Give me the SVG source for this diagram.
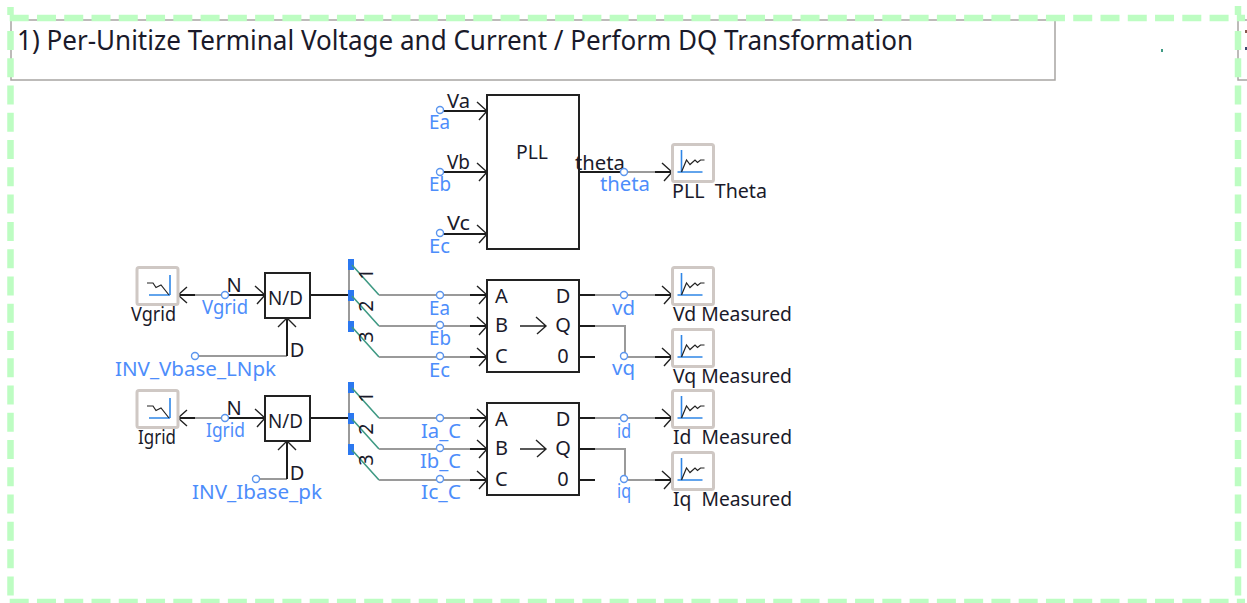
<svg xmlns="http://www.w3.org/2000/svg" xmlns:xlink="http://www.w3.org/1999/xlink" width="1247" height="603" viewBox="0 0 1247 603">
<style>
text{font-family:"Noto Sans","DejaVu Sans",sans-serif;font-size:20px;fill:#1a1a2a}
.b{fill:#4d8dfb}
.m{text-anchor:middle}
.title{font-size:28px}
.box{fill:#fff;stroke:#222;stroke-width:2}
.wk{fill:none;stroke:#1c1c1c;stroke-width:2}
.wg{fill:none;stroke:#9a9a9a;stroke-width:2}
.gr{fill:none;stroke:#3f9a84;stroke-width:1.6}
.ar{fill:none;stroke:#222;stroke-width:1.4}
.nd{fill:#fff;stroke:#5b95ee;stroke-width:1.4}
.frame{fill:none;stroke:#a8a5a2;stroke-width:1.5}
.sc{fill:#fff;stroke:#cfc8c4;stroke-width:3}
.bl{fill:none;stroke:#2f86e6;stroke-width:1.6}
.cv{fill:none;stroke:#222;stroke-width:1.2}
.bb{fill:#2b78f0}
.sel{fill:none;stroke:#bdfdc2;stroke-width:6.500;stroke-dasharray:19 8.270}
</style>
<defs>
<path id="ah" class="ar" d="M-10 -9L0 0L-8 9"/>
<path id="ahl" class="ar" d="M9 -8L0 0L9 8"/>
<path id="ahu" class="ar" d="M-9 9L0 0L9 9"/>
<g id="sco"><rect class="sc" x="0" y="0" width="41" height="37" rx="2"/><path class="bl" d="M9 5.500V27.500M5 27.500H30"/><path class="cv" d="M9 27.500L14 15.500L17.500 20L22.500 15.500L25 18L28 15.500H32"/></g>
<g id="sci"><rect class="sc" x="0" y="0" width="41" height="37" rx="2"/><path class="bl" d="M33 7.500V27.500M12 27.500H33"/><path class="cv" d="M10 15.500H16L19 20L24 17.500L32 27.500"/></g>
<g id="sw"><path class="wg" d="M349 0V73"/><rect class="bb" x="348" y="0" width="6" height="11"/><rect class="bb" x="348" y="31" width="6" height="11"/><rect class="bb" x="348" y="62" width="6" height="11"/><path class="gr" d="M352 6L379 36M352 37L379 67M352 68L379 98"/><path class="wg" d="M379 36H470M379 67H470M379 98H470"/><path class="wk" d="M470 36H487M470 67H487M470 98H487"/></g>
<circle id="n" class="nd" r="3.500"/>
</defs>
<g id="frame-title">
<path class="frame" d="M1056 20H11V80H1055V20"/>
<path class="frame" d="M1247 20H1238V80H1247"/>
<rect x="1161" y="49" width="2" height="3" fill="#3f9a84"/>
<rect x="1245" y="30" width="2" height="3" fill="#8a5a50"/>
<rect x="1245" y="47" width="2" height="3" fill="#3a4a70"/>
<text id="title" class="title" x="17" y="50" textLength="896" lengthAdjust="spacingAndGlyphs">1) Per-Unitize Terminal Voltage and Current / Perform DQ Transformation</text>
</g>
<g id="connectors">
<path class="wk" d="M440 111H487M440 172H487M440 234H487"/>
<path class="wk" d="M579 172H622M655 172H672"/><path class="wg" d="M622 172H655"/>
<use xlink:href="#ah" x="487" y="111"/><use xlink:href="#ah" x="487" y="172"/><use xlink:href="#ah" x="487" y="234"/><use xlink:href="#ah" x="672" y="172"/>

<path class="wk" d="M178 295H195M225 295H265M310 295H349"/><path class="wg" d="M195 295H225"/>
<path class="wg" d="M195 356H287"/><path class="wk" d="M287 356V318"/>
<use xlink:href="#ahl" x="178" y="295"/><use xlink:href="#ah" x="265" y="295"/><use xlink:href="#ahu" x="287" y="318"/>
<use xlink:href="#sw" y="259"/>
<use xlink:href="#ah" x="487" y="295"/><use xlink:href="#ah" x="487" y="326"/><use xlink:href="#ah" x="487" y="357"/>
<path class="wk" d="M579 295H595M655 295H672M579 326H595M655 357H672M579 357H595"/>
<path class="wg" d="M595 295H655M595 326H625V357H655"/>
<use xlink:href="#ah" x="672" y="295"/><use xlink:href="#ah" x="672" y="357"/>

<path class="wk" d="M178 418H195M225 418H265M310 418H349"/><path class="wg" d="M195 418H225"/>
<path class="wg" d="M256 479H287"/><path class="wk" d="M287 479V441"/>
<use xlink:href="#ahl" x="178" y="418"/><use xlink:href="#ah" x="265" y="418"/><use xlink:href="#ahu" x="287" y="441"/>
<use xlink:href="#sw" y="382"/>
<use xlink:href="#ah" x="487" y="418"/><use xlink:href="#ah" x="487" y="449"/><use xlink:href="#ah" x="487" y="480"/>
<path class="wk" d="M579 418H595M655 418H672M579 449H595M655 480H672M579 480H595"/>
<path class="wg" d="M595 418H655M595 449H625V480H655"/>
<use xlink:href="#ah" x="672" y="418"/><use xlink:href="#ah" x="672" y="480"/>
</g>
<g id="pll">
<rect class="box" x="487" y="95" width="92" height="154"/>
<text x="516" y="159" textLength="32" lengthAdjust="spacingAndGlyphs">PLL</text>
<text x="447" y="108" textLength="23" lengthAdjust="spacingAndGlyphs">Va</text><text x="447" y="169" textLength="23" lengthAdjust="spacingAndGlyphs">Vb</text><text x="447" y="230" textLength="23" lengthAdjust="spacingAndGlyphs">Vc</text>
<text x="575" y="170" textLength="50" lengthAdjust="spacingAndGlyphs">theta</text>
<use xlink:href="#n" x="440" y="110"/><use xlink:href="#n" x="440" y="172"/><use xlink:href="#n" x="440" y="233"/><use xlink:href="#n" x="624" y="172"/>
<text class="b" x="429" y="129" textLength="21" lengthAdjust="spacingAndGlyphs">Ea</text><text class="b" x="429" y="191" textLength="22" lengthAdjust="spacingAndGlyphs">Eb</text><text class="b" x="429" y="253" textLength="21" lengthAdjust="spacingAndGlyphs">Ec</text>
<text class="b" x="600" y="191" textLength="50" lengthAdjust="spacingAndGlyphs">theta</text>
</g>
<g id="scope-theta"><use xlink:href="#sco" x="672.500" y="144.500"/><text x="672" y="198" textLength="95" lengthAdjust="spacingAndGlyphs" xml:space="preserve">PLL  Theta</text></g>
<g id="scope-vgrid"><use xlink:href="#sci" x="137" y="267.500"/><text x="131" y="321" textLength="45" lengthAdjust="spacingAndGlyphs">Vgrid</text></g>
<g id="nd-v">
<rect class="box" x="265" y="273" width="45" height="45"/>
<text x="268" y="305" textLength="35" lengthAdjust="spacingAndGlyphs">N/D</text>
<text class="m" x="234" y="292">N</text><text class="m" x="297" y="357">D</text>
<use xlink:href="#n" x="225" y="295"/><use xlink:href="#n" x="195" y="356"/>
<text class="b" x="202" y="314" textLength="46" lengthAdjust="spacingAndGlyphs">Vgrid</text>
<text class="b" x="115" y="376" textLength="161" lengthAdjust="spacingAndGlyphs">INV_Vbase_LNpk</text>
</g>
<g id="sw-labels-v">
<text class="m" transform="translate(373 274) rotate(-90)">1</text>
<text class="m" transform="translate(373 306) rotate(-90)">2</text>
<text class="m" transform="translate(373 337) rotate(-90)">3</text>
<use xlink:href="#n" x="440" y="295"/><use xlink:href="#n" x="440" y="325"/><use xlink:href="#n" x="440" y="356"/>
<text class="b" x="429" y="315" textLength="21" lengthAdjust="spacingAndGlyphs">Ea</text><text class="b" x="429" y="345" textLength="22" lengthAdjust="spacingAndGlyphs">Eb</text><text class="b" x="429" y="377" textLength="21" lengthAdjust="spacingAndGlyphs">Ec</text>
</g>
<g id="dq-v">
<rect class="box" x="487" y="280" width="92" height="92"/>
<text x="495" y="303">A</text><text x="495" y="332">B</text><text x="495" y="363">C</text>
<text class="m" x="563" y="303">D</text><text class="m" x="563" y="332">Q</text><text class="m" x="563" y="363">0</text>
<path class="ar" d="M520 326H546M536 317L546 326L537 334"/>
<use xlink:href="#n" x="624" y="295"/><use xlink:href="#n" x="624" y="356"/>
<text class="b" x="612" y="315" textLength="23" lengthAdjust="spacingAndGlyphs">vd</text><text class="b" x="612" y="375" textLength="23" lengthAdjust="spacingAndGlyphs">vq</text>
</g>
<g id="scope-vd"><use xlink:href="#sco" x="672.500" y="267.500"/><text x="673" y="321" textLength="119" lengthAdjust="spacingAndGlyphs">Vd Measured</text></g>
<g id="scope-vq"><use xlink:href="#sco" x="672.500" y="329.500"/><text x="673" y="383" textLength="119" lengthAdjust="spacingAndGlyphs">Vq Measured</text></g>
<g id="scope-igrid"><use xlink:href="#sci" x="137" y="390.500"/><text x="138" y="444" textLength="38" lengthAdjust="spacingAndGlyphs">Igrid</text></g>
<g id="nd-i">
<rect class="box" x="265" y="396" width="45" height="45"/>
<text x="268" y="428" textLength="35" lengthAdjust="spacingAndGlyphs">N/D</text>
<text class="m" x="234" y="415">N</text><text class="m" x="297" y="480">D</text>
<use xlink:href="#n" x="225" y="418"/><use xlink:href="#n" x="256" y="479"/>
<text class="b" x="206" y="437" textLength="39" lengthAdjust="spacingAndGlyphs">Igrid</text>
<text class="b" x="192" y="499" textLength="130" lengthAdjust="spacingAndGlyphs">INV_Ibase_pk</text>
</g>
<g id="sw-labels-i">
<text class="m" transform="translate(373 397) rotate(-90)">1</text>
<text class="m" transform="translate(373 429) rotate(-90)">2</text>
<text class="m" transform="translate(373 460) rotate(-90)">3</text>
<use xlink:href="#n" x="440" y="418"/><use xlink:href="#n" x="440" y="448"/><use xlink:href="#n" x="440" y="479"/>
<text class="b" x="421" y="438" textLength="40" lengthAdjust="spacingAndGlyphs">Ia_C</text><text class="b" x="420" y="468" textLength="41" lengthAdjust="spacingAndGlyphs">Ib_C</text><text class="b" x="421" y="499" textLength="40" lengthAdjust="spacingAndGlyphs">Ic_C</text>
</g>
<g id="dq-i">
<rect class="box" x="487" y="403" width="92" height="92"/>
<text x="495" y="426">A</text><text x="495" y="455">B</text><text x="495" y="486">C</text>
<text class="m" x="563" y="426">D</text><text class="m" x="563" y="455">Q</text><text class="m" x="563" y="486">0</text>
<path class="ar" d="M520 449H546M536 440L546 449L537 457"/>
<use xlink:href="#n" x="624" y="418"/><use xlink:href="#n" x="624" y="479"/>
<text class="b" x="617" y="438" textLength="14" lengthAdjust="spacingAndGlyphs">id</text><text class="b" x="617" y="498" textLength="14" lengthAdjust="spacingAndGlyphs">iq</text>
</g>
<g id="scope-id"><use xlink:href="#sco" x="672.500" y="390.500"/><text x="673" y="444" textLength="119" lengthAdjust="spacingAndGlyphs" xml:space="preserve">Id  Measured</text></g>
<g id="scope-iq"><use xlink:href="#sco" x="672.500" y="452.500"/><text x="673" y="506" textLength="119" lengthAdjust="spacingAndGlyphs" xml:space="preserve">Iq  Measured</text></g>
<g id="selection">
<path class="sel" d="M9.700 18H1245"/>
<path class="sel" d="M9.700 602H1245"/>
<path class="sel" d="M10.500 31V597"/>
<path class="sel" d="M1238 31V597"/>
<path class="sel" d="M10.500 7V15M1238 6V15" style="stroke-dasharray:none"/>
</g>
</svg>
